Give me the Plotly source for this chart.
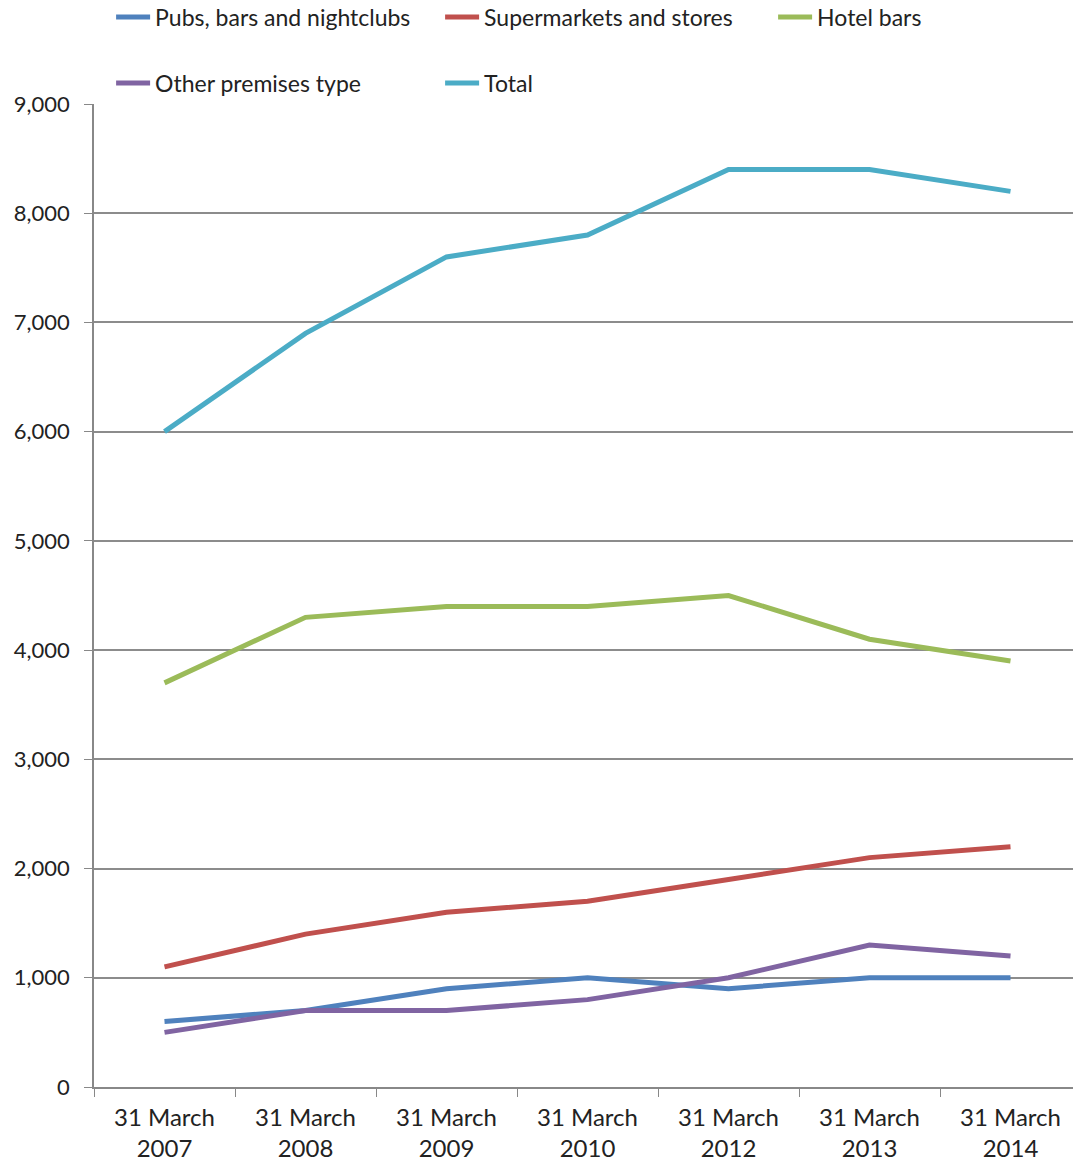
import plotly.graph_objects as go

# Licensed premises counts by type, at 31 March each year
periods = ["31 March<br>2007", "31 March<br>2008", "31 March<br>2009", "31 March<br>2010",
           "31 March<br>2012", "31 March<br>2013", "31 March<br>2014"]

pubs_bars_nightclubs = [600, 700, 900, 1000, 900, 1000, 1000]
supermarkets_stores = [1100, 1400, 1600, 1700, 1900, 2100, 2200]
hotel_bars = [3700, 4300, 4400, 4400, 4500, 4100, 3900]
other_premises = [500, 700, 700, 800, 1000, 1300, 1200]
total = [6000, 6900, 7600, 7800, 8400, 8400, 8200]

y_ticks = [0, 1000, 2000, 3000, 4000, 5000, 6000, 7000, 8000, 9000]

series = [
    ("Pubs, bars and nightclubs", pubs_bars_nightclubs, "#4F81BD", "legend"),
    ("Supermarkets and stores", supermarkets_stores, "#C0504D", "legend"),
    ("Hotel bars", hotel_bars, "#9BBB59", "legend3"),
    ("Other premises type", other_premises, "#8064A2", "legend2"),
    ("Total", total, "#4BACC6", "legend2"),
]

FONT = "Lato, Carlito, Calibri, sans-serif"
TXT = "#222222"
AXIS = "#888888"

fig = go.Figure()
for name, vals, color, leg in series:
    fig.add_trace(go.Scatter(
        x=periods, y=vals, name=name, mode="lines",
        line=dict(color=color, width=5),
        legend=leg,
    ))

legend_style = dict(
    orientation="h", xanchor="left", yanchor="middle",
    font=dict(family=FONT, size=23, color=TXT),
    bgcolor="rgba(0,0,0,0)", entrywidth=280, entrywidthmode="pixels",
    itemwidth=34, itemclick=False, itemdoubleclick=False,
)

PLOT_W, PLOT_H, TOP = 979, 983, 104
lx = (116 - 94) / PLOT_W - 0.005

fig.update_layout(
    width=1073, height=1162,
    margin=dict(l=94, r=0, t=TOP, b=75, autoexpand=False),
    paper_bgcolor="white", plot_bgcolor="white",
    font=dict(family=FONT, size=23, color=TXT),
    showlegend=True,
    legend=dict(x=lx, y=1 + (TOP - 17) / PLOT_H, **legend_style),
    legend3=dict(x=lx + 662 / PLOT_W, y=1 + (TOP - 17) / PLOT_H, **legend_style),
    legend2=dict(x=lx, y=1 + (TOP - 83) / PLOT_H, **legend_style),
    xaxis=dict(
        type="category", range=[-0.5, -0.5 + PLOT_W / 141],
        tickson="boundaries", ticks="outside", ticklen=8, tickcolor=AXIS,
        showline=True, linecolor=AXIS, linewidth=1.5,
        showgrid=False, ticklabelstandoff=8,
        tickfont=dict(family=FONT, size=24, color=TXT),
    ),
    yaxis=dict(
        range=[0, 9000], tickvals=y_ticks, tickformat=",d",
        ticks="outside", ticklen=8, tickcolor=AXIS,
        showline=True, linecolor=AXIS, linewidth=1.5,
        showgrid=True, gridcolor="#8C8C8C", gridwidth=1.5,
        zeroline=False, ticklabelstandoff=10,
        tickfont=dict(family=FONT, size=22, color=TXT),
    ),
)

fig.write_html("out.html")
